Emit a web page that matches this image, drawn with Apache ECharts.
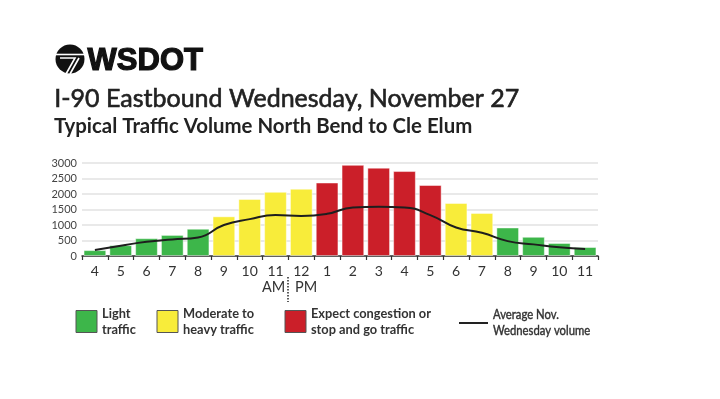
<!DOCTYPE html>
<html><head><meta charset="utf-8">
<script src="https://cdn.jsdelivr.net/npm/echarts@6/dist/echarts.min.js"></script>
<style>html,body{margin:0;padding:0;background:#fff}#c{width:720px;height:399px}</style>
</head><body><div id="c"></div>
<script>
var hours = ['4','5','6','7','8','9','10','11','12','1','2','3','4','5','6','7','8','9','10','11'];
var volume = [190,350,575,680,880,1280,1840,2070,2170,2370,2940,2850,2740,2290,1710,1390,920,620,420,290];
var average = [190,330,460,535,600,1000,1190,1320,1290,1360,1565,1585,1565,1320,920,750,480,375,280,225];
var level = ['light','light','light','light','light','moderate','moderate','moderate','moderate','heavy','heavy','heavy','heavy','heavy','moderate','moderate','light','light','light','light'];
var yTicks = [0,500,1000,1500,2000,2500,3000];
var legendText = ['Light\ntraffic','Moderate to\nheavy traffic','Expect congestion or\nstop and go traffic','Average Nov.\nWednesday volume'];

var colors = {light:'#3db64a', moderate:'#f8ec3a', heavy:'#cb1f29'};
var font = 'Lato, "Open Sans", sans-serif';
var chart = echarts.init(document.getElementById('c'));

var barData = volume.map(function(v,i){
  return {value:v, itemStyle:{color:colors[level[i]]}};
});

var legendBoxes = [
  {x:76, c:colors.light, t:legendText[0]},
  {x:157, c:colors.moderate, t:legendText[1]},
  {x:285, c:colors.heavy, t:legendText[2]}
];
var graphics = [
  // logo
  {type:'circle', shape:{cx:70, cy:59, r:14.5}, style:{fill:'#111'}},
  {type:'line', shape:{x1:55, y1:54.5, x2:85, y2:54.5}, style:{stroke:'#fff', lineWidth:1.6}},
  {type:'polyline', shape:{points:[[60,58],[75,58],[66,74]]}, style:{stroke:'#fff', lineWidth:1.6, fill:null}},
  {type:'line', shape:{x1:79, y1:58, x2:70, y2:74}, style:{stroke:'#fff', lineWidth:1.6}},
  {type:'text', left:87, top:45, style:{text:'WSDOT', font:'900 31px "Liberation Sans", Arial, sans-serif', fill:'#111', stroke:'#111', lineWidth:1.2}},
  // titles
  {type:'text', left:54, top:86, style:{text:'I-90 Eastbound Wednesday, November 27', font:'25px '+font, fill:'#222', stroke:'#222', lineWidth:0.6}},
  {type:'text', left:54, top:116, style:{text:'Typical Traffic Volume North Bend to Cle Elum', font:'bold 20.4px '+font, fill:'#222'}},
  // AM / PM
  {type:'text', left:262, top:280, style:{text:'AM', font:'14.5px '+font, fill:'#333'}},
  {type:'text', left:295, top:280, style:{text:'PM', font:'14.5px '+font, fill:'#333'}},
  {type:'line', shape:{x1:288, y1:277, x2:288, y2:302}, style:{stroke:'#333', lineWidth:1.6, lineDash:[1.5,1.5]}},
  // line legend
  {type:'line', shape:{x1:459, y1:323, x2:488, y2:323}, style:{stroke:'#222', lineWidth:2}},
  {type:'text', x:493, y:307, scaleX:0.91, style:{text:legendText[3], font:'12.4px '+font, fill:'#333', stroke:'#333', lineWidth:0.4, lineHeight:16}}
];
legendBoxes.forEach(function(b){
  graphics.push({type:'rect', shape:{x:b.x, y:310.5, width:21, height:22}, style:{fill:b.c, stroke:'#555', lineWidth:1}});
  graphics.push({type:'text', left:b.x+26, top:306, style:{text:b.t, font:'bold 12.8px '+font, fill:'#333', lineHeight:16}});
});

chart.setOption({
  animation:false,
  textStyle:{fontFamily:font},
  grid:{left:82, right:122, top:163, bottom:143},
  xAxis:{
    type:'category', data:hours, boundaryGap:true,
    axisLine:{lineStyle:{color:'#333', width:1.5}},
    axisTick:{show:true, length:4, lineStyle:{color:'#333', width:1.2}},
    axisLabel:{color:'#333', fontSize:14, margin:8, fontFamily:font}
  },
  yAxis:{
    type:'value', min:yTicks[0], max:yTicks[yTicks.length-1], interval:yTicks[1]-yTicks[0],
    axisLine:{show:false}, axisTick:{show:false},
    axisLabel:{color:'#444', fontSize:11, margin:5, fontFamily:font, formatter:function(v){return String(v);}},
    splitLine:{lineStyle:{color:'#e2e2e2', width:1.5}}
  },
  series:[
    {type:'bar', data:barData, barCategoryGap:'12%', itemStyle:{borderColor:'rgba(255,255,255,0.45)', borderWidth:1}},
    {type:'line', data:average, smooth:0.5, showSymbol:false, symbol:'none', lineStyle:{color:'#1e1e1e', width:2}, z:5}
  ],
  graphic:graphics
});
</script></body></html>
